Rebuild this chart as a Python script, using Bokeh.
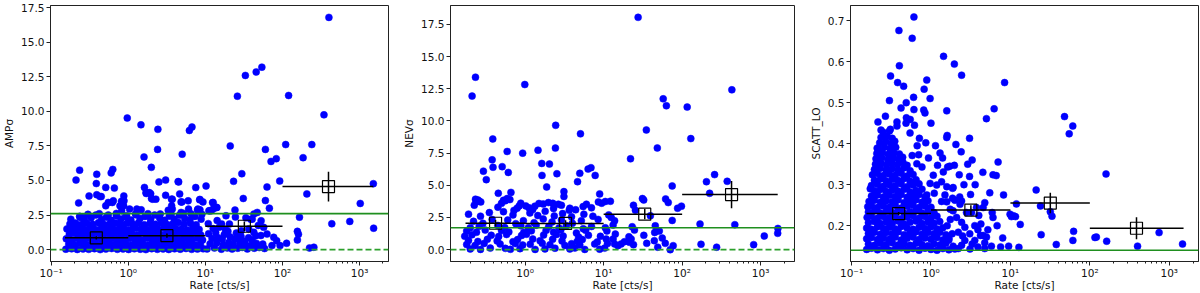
from bokeh.plotting import figure
from bokeh.layouts import row
from bokeh.models import Range1d, FixedTicker, PrintfTickFormatter, CustomJSTickFormatter, Span
from bokeh.embed import file_html
from bokeh.resources import INLINE

# ---------------- data: panel 1 (AMP sigma) ----------------
amp_blob = [
 (0.155,0.03),(0.184,0.06),(0.218,0.01),(0.259,0.05),(0.307,0.02),(0.364,0.07),(0.432,0.0),(0.512,0.04),(0.608,0.08),(0.721,0.02),(0.855,0.05),(1.01,0.01),(1.2,0.06),(1.43,0.03),(1.69,0.0),(2.01,0.07),(2.38,0.02),(2.83,0.05),(3.35,0.01),(3.98,0.06),(4.72,0.03),(5.6,0.08),(6.64,0.02),(7.88,0.04),(9.35,0.06),
 (0.169,0.4),(0.2,0.36),(0.238,0.44),(0.282,0.38),(0.335,0.42),(0.397,0.35),(0.471,0.41),(0.559,0.45),(0.663,0.37),(0.787,0.43),(0.933,0.39),(1.11,0.36),(1.31,0.44),(1.56,0.4),(1.85,0.35),(2.19,0.42),(2.6,0.38),(3.09,0.45),(3.66,0.36),(4.35,0.41),(5.16,0.39),(6.12,0.44),(7.26,0.35),(8.61,0.4),
 (0.157,0.78),(0.186,0.72),(0.22,0.8),(0.262,0.75),(0.31,0.82),(0.368,0.74),(0.436,0.79),(0.518,0.72),(0.614,0.81),(0.728,0.76),(0.864,0.73),(1.02,0.8),(1.21,0.77),(1.44,0.72),(1.71,0.82),(2.03,0.75),(2.41,0.79),(2.86,0.73),(3.39,0.81),(4.02,0.76),(4.77,0.72),(5.66,0.8),(6.71,0.75),(7.96,0.83),(9.2,0.7),
 (0.172,1.12),(0.203,1.18),(0.241,1.1),(0.286,1.16),(0.34,1.13),(0.402,1.2),(0.477,1.09),(0.566,1.15),(0.671,1.19),(0.797,1.11),(0.945,1.17),(1.12,1.14),(1.33,1.08),(1.58,1.2),(1.87,1.13),(2.22,1.16),(2.63,1.1),(3.13,1.19),(3.71,1.12),(4.4,1.17),(5.22,1.09),(6.2,1.15),(7.35,1.2),(8.7,1.06),
 (0.16,1.5),(0.19,1.44),(0.225,1.53),(0.266,1.47),(0.316,1.55),(0.375,1.46),(0.445,1.52),(0.528,1.45),(0.626,1.54),(0.742,1.48),(0.88,1.51),(1.04,1.44),(1.24,1.55),(1.47,1.49),(1.74,1.46),(2.07,1.53),(2.45,1.47),(2.91,1.56),(3.45,1.45),(4.1,1.52),(4.86,1.48),(5.77,1.42),(6.85,1.55),(8.3,1.46),
 (0.175,1.85),(0.207,1.92),(0.246,1.82),(0.291,1.9),(0.345,1.84),(0.41,1.95),(0.485,1.81),(0.576,1.88),(0.683,1.93),(0.81,1.83),(0.96,1.9),(1.14,1.86),(1.36,1.94),(1.61,1.8),(1.91,1.89),(2.26,1.84),(2.68,1.92),(3.18,1.82),(3.78,1.88),(4.48,1.96),(5.3,1.83),(6.4,1.9),(7.6,1.8),
 (0.18,2.2),(0.235,2.4),(0.27,2.15),(0.33,2.3),(0.38,2.5),(0.45,2.18),(0.52,2.35),(0.6,2.12),(0.7,2.45),(0.8,2.22),(0.92,2.38),(1.08,2.15),(1.25,2.52),(1.42,2.25),(1.65,2.4),(1.95,2.17),(2.2,2.5),(2.55,2.28),(2.95,2.12),(3.4,2.42),(3.95,2.2),(4.6,2.48),(5.4,2.25),(6.3,2.15),(7.3,2.4),(8.8,2.2),
]
amp_mid = [
 (10.5,0.05),(11.5,0.42),(12.2,0.8),(11.0,1.15),(12.6,1.52),(10.9,1.88),(13.1,0.12),(14.0,0.47),(14.6,0.86),(13.6,1.22),(15.1,1.62),(14.2,2.1),(16.1,0.03),(17.0,0.36),(16.6,0.76),(17.6,1.1),(18.2,1.46),(16.2,1.86),(19.2,0.12),(20.1,0.52),(21.0,0.92),(19.6,1.32),(22.2,0.04),(23.1,0.36),(24.1,0.76),(25.2,1.2),(26.3,0.1),(28.0,0.5),(27.2,0.95),(30.1,0.16),(32.5,0.6),(29.2,1.36),(34.2,0.22),(36.3,0.86),(38.4,0.3),(40.5,0.7),(43.0,0.1),(46.0,0.45),(50.0,0.15),(52.5,1.02),(55.5,0.4),(58.5,0.08),(36.5,1.5),(42.5,1.25),(48.5,1.75),(33.5,2.3),(24.5,2.36),(18.5,2.45),(40.5,2.2),(20.5,1.85),(57,1.61),(63,1.13),(77,0.89),(84,0.65),(73,0.29),(93,0.29),(52.8,2.09),(42.6,2.57),(47,2.69),(38.7,2.2),(11.4,2.81),(14.1,3.05),(12.4,3.4),(12.7,2.95),(24.2,2.86),(31,3.7),(60,3.55),(67.6,3.0),(29,0.95),(35,0.05),(45,1.0),
]
amp_outer = [
 (400,16.8),(54,13.2),(45.6,12.85),(33,12.6),(26,11.1),(120,11.15),(345,9.75),(0.97,9.52),(1.46,9.03),(2.42,8.7),(6.2,8.62),(6.7,8.87),(2.4,7.25),(21,7.5),(110,7.6),(240,7.6),(60,7.25),(71,6.38),(83,6.58),(185,6.65),(5.0,6.9),(1.6,6.7),(1.99,5.95),(0.21,5.03),(0.234,5.75),(0.227,3.38),(0.39,5.45),(0.385,4.78),(0.6,5.55),(0.63,5.8),(0.51,4.5),(0.66,4.45),(0.31,3.88),(0.39,3.97),(0.446,3.84),(0.875,3.88),(0.817,3.5),(1.62,4.5),(2.5,4.9),(3.05,5.03),(4.5,4.9),(1.71,4.06),(1.95,4.05),(2.0,3.7),(3.05,3.93),(3.64,3.65),(4.64,4.03),(4.95,3.45),(5.98,3.53),(7.5,4.49),(10.2,4.6),(8.5,3.63),(9.3,3.45),(7.9,2.87),(3.3,2.85),(23.2,4.94),(29.7,5.49),(63,4.53),(92,4.96),(207,4.03),(166,2.35),(156,1.32),(161,1.11),(156,0.7),(113,0.46),(224,0.12),(255,0.17),(436,1.87),(746,2.04),(1019,3.34),(1507,4.77),(1520,1.55),
 (0.43,3.84),(0.64,3.53),(0.88,3.53),(1.7,4.13),(1.87,4.13),(2.07,3.65),(2.28,3.65),(4.43,4.92),(3.72,3.65),(3.65,3.17),(3.72,2.93),(4.84,3.45),(4.84,2.69),(6.05,2.93),(8.43,3.6),(8.0,2.93),(8.5,2.88),(12.6,3.41),(13.9,3.05),(11.1,2.81),(11.9,2.81),(0.51,3.17),(0.55,3.41),(0.62,3.41),(0.266,2.33),(0.24,2.33),(0.19,1.73),(1.04,2.93),(1.29,2.93),(1.47,2.88),(0.78,3.17),(0.87,3.17),(0.82,2.81),(0.3,2.55),(0.42,2.6),(0.55,2.5),(0.7,2.62),(0.95,2.45),(1.25,2.6),(1.8,2.6),(2.6,2.58),(3.6,2.55),(5.2,2.62),(6.5,2.6),(9.0,2.55),(0.235,2.4),
]
amp_bin_rate = [0.385, 3.17, 32.0, 395.0]
amp_bin_val = [0.85, 1.01, 1.69, 4.56]
amp_bin_err = [0.12, 0.15, 0.35, 1.08]
amp_bin_lo = [0.151, 1.0, 10.0, 100.0]
amp_bin_hi = [1.0, 10.0, 100.0, 1507.0]
amp_solid = 2.6
amp_dashed = 0.0

# ---------------- data: panel 2 (NEV sigma) ----------------
nev_low = [
 (0.2,0.05),(0.27,0.02),(0.36,0.12),(0.56,0.1),(0.65,0.03),(0.86,0.08),(1.34,0.02),(1.79,0.06),(2.4,0.11),(3.71,0.05),(4.3,0.13),(5.75,0.02),(8.9,0.04),(10.3,0.12),
 (0.18,0.4),(0.23,0.32),(0.3,0.48),(0.48,0.44),(0.75,0.47),(0.93,0.36),(1.16,0.42),(1.65,0.49),(2.07,0.38),(3.21,0.33),(3.9,0.46),(4.97,0.37),(7.69,0.44),(11.2,0.48),
 (0.19,0.72),(0.25,0.64),(0.33,0.8),(0.44,0.68),(0.7,0.62),(0.8,0.78),(1.25,0.83),(1.55,0.7),(2.24,0.8),(2.95,0.68),(4.6,0.64),(5.35,0.79),(8.3,0.6),(10.8,0.82),
 (0.17,1.05),(0.21,1.15),(0.37,1.12),(0.46,1.02),(0.58,1.18),(0.9,1.1),(1.04,1.2),(1.72,1.14),(2.5,1.18),(3.05,1.06),(4.8,0.98),(6.4,1.12),(9.1,1.04),
 (0.18,1.45),(0.24,1.35),(0.31,1.52),(0.5,1.48),(0.62,1.38),(0.96,1.34),(1.2,1.46),(1.85,1.5),(2.3,1.36),(2.85,1.54),(4.5,1.3),(5.9,1.5),(11.0,1.45),
 (0.2,1.7),(0.26,1.82),(0.45,1.88),(0.55,1.72),(0.88,1.85),(1.1,1.7),(1.38,1.9),(2.0,1.8),(2.7,1.68),(3.35,1.86),(5.5,1.62),(7.0,1.8),(10.5,1.7),
 (0.22,2.2),(0.29,2.05),(0.38,2.35),(0.6,2.3),(0.76,2.02),(0.95,2.25),(1.3,2.1),(1.7,2.38),(2.2,2.15),(2.9,2.3),(4.0,2.05),(5.2,2.25),(8.5,2.35),
 (0.19,2.76),(0.27,2.6),(0.35,2.88),(0.53,2.95),(0.7,2.7),(1.15,2.85),(1.45,2.65),(1.8,2.98),(2.35,2.62),(3.0,2.8),(3.9,2.55),(5.6,2.75),(7.3,2.6),(11.6,2.7),
 (0.225,3.46),(0.257,3.79),(0.233,3.92),(0.45,3.3),(0.72,3.05),(1.02,3.4),(1.25,3.12),(2.3,3.2),(2.9,3.45),(4.4,3.1),(7.0,3.25),
]
nev_outer = [
 (27.5,18.05),(0.233,13.4),(0.211,11.93),(0.99,12.83),(430,12.42),(57.4,11.72),(63,11.18),(116,11.08),(129,8.63),(2.45,9.66),(5.07,9.0),(35,9.3),(48.3,7.9),(22,7.06),(0.387,8.6),(0.93,7.5),(1.46,7.73),(2.43,7.89),(0.59,7.63),(0.38,6.98),(0.39,6.4),(0.294,6.1),(0.32,5.44),(0.51,6.45),(0.61,6.0),(1.63,6.7),(2.04,6.65),(1.64,5.77),(2.54,5.9),(4.97,5.93),(4.65,5.28),(6.34,6.26),(6.9,6.37),(7.8,5.77),(1.88,4.87),(0.455,4.38),(0.66,4.45),(8.9,4.33),(3.12,4.51),(3.12,4.13),(0.25,3.86),(0.238,3.74),(0.272,3.71),(0.53,3.84),(0.59,3.97),(0.64,3.89),(0.5,3.6),(0.56,3.8),(0.88,3.61),(0.84,3.4),(0.79,3.22),(1.12,3.25),(1.33,3.38),(1.5,3.59),(1.7,3.55),(1.98,3.66),(2.25,3.6),(2.65,3.53),(3.71,3.22),(3.65,3.07),(5.48,3.35),(6.04,3.53),(8.57,3.71),(9.43,3.61),(10.5,3.74),(12.2,3.76),
 (204,5.28),(259,5.83),(375,5.31),(224,4.38),(74.7,4.95),(61.6,3.94),(66.5,3.66),(31.2,3.97),(32.4,3.86),(24,3.45),(25.4,3.07),(98,3.38),(87.5,3.22),(74.7,2.27),(39.4,2.63),(169,1.99),(469,1.94),(1660,1.65),(1650,1.27),(1113,1.06),(815,0.39),(174,0.42),(275,0.19),(45.5,1.85),(47.4,1.45),(51.2,1.45),(44.7,1.34),(23.1,1.78),(24.7,1.52),(32.5,1.11),(35.4,0.49),(21,1.0),(22.4,0.83),(24,0.39),(21.3,0.57),(18.4,0.62),(16.7,0.44),(15.2,0.31),(13.8,0.44),(13.2,0.83),(14.1,1.21),(13.2,1.91),(13.8,2.24),(12.5,2.5),(55.8,0.9),(61,0.49),(70.5,0.0),(76.9,0.31),(48.9,0.19),(44.2,0.7),
]
nev_bin_rate = [0.42, 3.27, 33.4, 426.0]
nev_bin_val = [2.05, 2.04, 2.76, 4.28]
nev_bin_err = [0.25, 0.25, 0.4, 1.06]
nev_bin_lo = [0.174, 1.0, 10.0, 100.0]
nev_bin_hi = [1.0, 10.0, 100.0, 1650.0]
nev_solid = 1.7
nev_dashed = 0.0

# ---------------- data: panel 3 (SCATT_LO) ----------------
scatt_blob = [
 (0.155,0.142),(0.178,0.145),(0.212,0.141),(0.252,0.144),(0.299,0.14),(0.355,0.143),(0.422,0.146),(0.501,0.141),(0.596,0.144),(0.708,0.14),(0.841,0.145),(1.0,0.142),(1.19,0.14),(1.41,0.144),(1.68,0.141),(2.0,0.143),
 (0.163,0.155),(0.194,0.152),(0.231,0.157),(0.274,0.154),(0.326,0.158),(0.387,0.153),(0.46,0.156),(0.546,0.152),(0.649,0.157),(0.771,0.154),(0.917,0.151),(1.09,0.156),(1.29,0.153),(1.54,0.157),
 (0.155,0.168),(0.178,0.171),(0.212,0.166),(0.252,0.17),(0.299,0.167),(0.355,0.172),(0.422,0.165),(0.501,0.169),(0.596,0.172),(0.708,0.166),(0.841,0.17),(1.0,0.167),(1.19,0.171),(1.41,0.165),(1.68,0.169),
 (0.163,0.181),(0.194,0.184),(0.231,0.179),(0.274,0.183),(0.326,0.18),(0.387,0.185),(0.46,0.178),(0.546,0.182),(0.649,0.185),(0.771,0.179),(0.917,0.183),(1.09,0.18),(1.29,0.184),(1.54,0.178),
 (0.155,0.194),(0.178,0.191),(0.212,0.197),(0.252,0.193),(0.299,0.196),(0.355,0.192),(0.422,0.198),(0.501,0.194),(0.596,0.191),(0.708,0.196),(0.841,0.193),(1.0,0.197),(1.19,0.192),(1.41,0.195),
 (0.163,0.207),(0.194,0.21),(0.231,0.205),(0.274,0.209),(0.326,0.206),(0.387,0.211),(0.46,0.204),(0.546,0.208),(0.649,0.211),(0.771,0.205),(0.917,0.209),(1.09,0.206),(1.29,0.21),
 (0.157,0.22),(0.178,0.223),(0.212,0.218),(0.252,0.222),(0.299,0.219),(0.355,0.224),(0.422,0.217),(0.501,0.221),(0.596,0.224),(0.708,0.218),(0.841,0.222),(1.0,0.219),(1.19,0.223),
 (0.163,0.233),(0.194,0.236),(0.231,0.231),(0.274,0.235),(0.326,0.232),(0.387,0.237),(0.46,0.23),(0.546,0.234),(0.649,0.237),(0.771,0.231),(0.917,0.235),(1.09,0.232),
 (0.16,0.246),(0.178,0.249),(0.212,0.244),(0.252,0.248),(0.299,0.245),(0.355,0.25),(0.422,0.243),(0.501,0.247),(0.596,0.25),(0.708,0.244),(0.841,0.248),(1.0,0.245),
 (0.166,0.259),(0.194,0.262),(0.231,0.257),(0.274,0.261),(0.326,0.258),(0.387,0.263),(0.46,0.256),(0.546,0.26),(0.649,0.263),(0.771,0.257),(0.917,0.261),
 (0.178,0.272),(0.212,0.275),(0.252,0.27),(0.299,0.274),(0.355,0.271),(0.422,0.276),(0.501,0.269),(0.596,0.273),(0.708,0.276),(0.841,0.27),
 (0.172,0.29),(0.194,0.285),(0.231,0.288),(0.274,0.283),(0.326,0.287),(0.387,0.284),(0.46,0.289),(0.546,0.282),(0.649,0.286),(0.771,0.289),
 (0.178,0.298),(0.212,0.301),(0.252,0.296),(0.299,0.3),(0.355,0.297),(0.422,0.302),(0.501,0.295),(0.596,0.299),(0.708,0.302),
 (0.194,0.311),(0.231,0.314),(0.274,0.309),(0.326,0.313),(0.387,0.31),(0.46,0.315),(0.546,0.308),(0.649,0.312),
 (0.183,0.324),(0.212,0.327),(0.252,0.322),(0.299,0.326),(0.355,0.323),(0.422,0.328),(0.501,0.321),(0.596,0.325),
 (0.194,0.337),(0.231,0.34),(0.274,0.335),(0.326,0.339),(0.387,0.336),(0.46,0.341),(0.546,0.334),
 (0.2,0.35),(0.235,0.353),(0.276,0.348),(0.323,0.352),(0.38,0.349),(0.445,0.354),(0.5,0.347),
 (0.203,0.363),(0.24,0.366),(0.285,0.361),(0.335,0.365),(0.39,0.362),(0.44,0.367),
 (0.208,0.376),(0.245,0.379),(0.29,0.374),(0.34,0.378),(0.4,0.375),
 (0.218,0.389),(0.26,0.392),(0.305,0.387),(0.36,0.391),
 (0.226,0.402),(0.27,0.405),(0.315,0.4),(0.35,0.406),
 (0.235,0.415),(0.28,0.418),(0.325,0.413),
 (0.25,0.428),(0.3,0.431),
]
scatt_outer = [
 (0.61,0.709),(0.395,0.676),(0.58,0.657),(1.44,0.613),(1.97,0.594),(0.4,0.59),(0.31,0.565),(2.43,0.567),(0.38,0.549),(0.453,0.54),(0.885,0.555),(0.82,0.533),(8.45,0.549),(0.3,0.505),(0.604,0.513),(0.488,0.5),(0.975,0.51),(0.42,0.487),(0.61,0.483),(0.81,0.482),(0.84,0.475),(1.58,0.48),(6.24,0.485),(4.99,0.461),(48,0.466),(61,0.443),(55,0.424),(0.267,0.467),(0.215,0.453),(0.373,0.453),(0.49,0.463),(0.548,0.459),(0.485,0.45),(0.62,0.445),(1.0,0.45),(0.235,0.433),(0.308,0.435),(0.373,0.443),(1.58,0.415),(1.6,0.42),(0.545,0.426),(0.715,0.413),(0.86,0.402),(0.67,0.395),(1.14,0.395),(0.21,0.389),(2.06,0.398),(3.06,0.413),(0.58,0.371),(0.7,0.373),(0.93,0.365),(1.3,0.377),(1.4,0.365),(0.664,0.351),(0.77,0.343),(1.21,0.347),(1.07,0.323),(1.43,0.331),(1.62,0.343),(1.97,0.347),(0.975,0.303),(1.18,0.299),(1.36,0.307),(1.58,0.295),(1.87,0.291),(0.885,0.275),(1.1,0.279),(1.5,0.275),(1.36,0.259),(1.58,0.258),(1.87,0.267),(7.0,0.355),(2.27,0.324),(3.06,0.32),(6.04,0.324),(6.63,0.322),(1.72,0.345),(160,0.326),(1.9,0.293),(21.1,0.287),(8.2,0.275),(3.15,0.276),(2.43,0.26),(2.32,0.252),(4.76,0.256),(4.54,0.244),(3.74,0.244),(3.24,0.232),(11.9,0.253),(23.9,0.248),(31.8,0.234),(33.4,0.223),(10.3,0.222),(11.6,0.222),(13.3,0.203),(5.9,0.232),(6.04,0.22),(4.25,0.204),(4.54,0.176),(4.2,0.176),(7.53,0.148),(12.8,0.147),(24.4,0.178),(37.8,0.154),(62.5,0.186),(61.2,0.164),(116,0.171),(121,0.172),(163,0.162),(399,0.15),(745,0.183),(1470,0.155),(9.9,0.228),(10.9,0.224),
 (2.1,0.22),(2.43,0.208),(2.67,0.196),(3.56,0.2),(2.21,0.184),(3.08,0.18),(2.67,0.164),(3.56,0.164),(4.75,0.158),(2.43,0.152),(2.21,0.144),(3.1,0.143),(3.9,0.148),(4.75,0.144),(5.77,0.15),(5.2,0.19),(2.8,0.232),(1.9,0.236),(1.75,0.215),(1.85,0.18),(1.9,0.15),(1.6,0.2),(1.75,0.24),(2.3,0.27),(2.0,0.262),(3.3,0.155),(2.5,0.175),(1.68,0.165),(3.9,0.19),(5.0,0.172),(4.0,0.225),(6.8,0.2),(8.0,0.17),(9.5,0.15),(2.6,0.3),(3.6,0.3),(5.5,0.28),(2.9,0.35),(2.4,0.38),(3.3,0.36),(4.5,0.33),
]
scatt_bin_rate = [0.392, 3.18, 31.8, 387.0]
scatt_bin_val = [0.2294, 0.238, 0.255, 0.1936]
scatt_bin_err = [0.004, 0.012, 0.025, 0.027]
scatt_bin_lo = [0.154, 1.0, 10.0, 100.0]
scatt_bin_hi = [1.0, 10.0, 100.0, 1514.0]
scatt_solid = 0.14

x_major = [0.1, 1, 10, 100, 1000]
x_minor = [0.2, 0.3, 0.4, 0.5, 0.6, 0.7, 0.8, 0.9, 2, 3, 4, 5, 6, 7, 8, 9,
           20, 30, 40, 50, 60, 70, 80, 90, 200, 300, 400, 500, 600, 700, 800, 900, 2000]
amp_yticks = [0, 2.5, 5, 7.5, 10, 12.5, 15, 17.5]
scatt_yticks = [0.2, 0.3, 0.4, 0.5, 0.6, 0.7]

FONT = "DejaVu Sans"
H = 293


def log_formatter():
    return CustomJSTickFormatter(code="""
const e = Math.round(Math.log10(tick));
const sup = {'-':'\u207b','0':'\u2070','1':'\u00b9','2':'\u00b2','3':'\u00b3','4':'\u2074'};
return '10' + String(e).split('').map(c => sup[c]).join('');
""")


def make_panel(groups, bins, xr, yr, yticks, ylabel, solid_y, dashed_y, width, bl, br):
    p = figure(width=width, height=H, x_axis_type="log",
               x_range=Range1d(*xr), y_range=Range1d(*yr),
               output_backend="svg", toolbar_location=None,
               min_border_left=bl, min_border_right=br, min_border_top=5, min_border_bottom=30)
    p.grid.visible = False
    p.outline_line_color = "#222222"
    p.outline_line_width = 1
    p.background_fill_color = "white"
    p.border_fill_color = "white"
    for g in groups:
        xs = [a for a, b in g]
        ys = [b for a, b in g]
        p.scatter(xs, ys, size=7, fill_color="#0000ff", line_color="#0000ff", line_width=0.5)
    p.add_layout(Span(location=solid_y, dimension="width", line_color="#1f8f1f", line_width=1.6))
    if dashed_y is not None:
        p.add_layout(Span(location=dashed_y, dimension="width", line_color="#2ca02c",
                          line_width=1.6, line_dash="6 3"))
    rate, val, err, lo, hi = bins
    p.segment(x0=lo, y0=val, x1=hi, y1=val, line_color="black", line_width=1.5)
    p.segment(x0=rate, y0=[v - e for v, e in zip(val, err)], x1=rate,
              y1=[v + e for v, e in zip(val, err)], line_color="black", line_width=1.5)
    p.scatter(rate, val, marker="square", size=12, fill_alpha=0, line_color="black", line_width=1.2)

    p.xaxis.ticker = FixedTicker(ticks=x_major, minor_ticks=x_minor)
    p.xaxis.formatter = log_formatter()
    p.yaxis.ticker = FixedTicker(ticks=yticks)
    p.yaxis.formatter = PrintfTickFormatter(format="%.1f")
    p.xaxis.axis_label = "Rate [cts/s]"
    p.yaxis.axis_label = ylabel
    for ax in p.axis:
        ax.major_tick_in = 0
        ax.major_tick_out = 4
        ax.minor_tick_in = 0
        ax.minor_tick_out = 2
        ax.axis_line_color = "#222222"
        ax.major_tick_line_color = "#222222"
        ax.minor_tick_line_color = "#222222"
        ax.major_label_text_font = FONT
        ax.major_label_text_font_size = "10.5px"
        ax.major_label_text_color = "#111111"
        ax.major_label_standoff = 2
        ax.axis_label_text_font = FONT
        ax.axis_label_text_font_size = "10.5px"
        ax.axis_label_text_font_style = "normal"
        ax.axis_label_text_color = "#111111"
        ax.axis_label_standoff = 3
    p.xaxis.major_label_standoff = 1
    p.xaxis.axis_label_standoff = -3
    p.yaxis.minor_tick_line_color = None
    return p


p1 = make_panel([amp_blob, amp_mid, amp_outer],
                (amp_bin_rate, amp_bin_val, amp_bin_err, amp_bin_lo, amp_bin_hi),
                (0.098, 2370), (-0.86, 17.66), amp_yticks, "AMPσ", amp_solid, amp_dashed,
                400, 43, 12)
p2 = make_panel([nev_low, nev_outer],
                (nev_bin_rate, nev_bin_val, nev_bin_err, nev_bin_lo, nev_bin_hi),
                (0.112, 2700), (-0.92, 18.97), amp_yticks, "NEVσ", nev_solid, nev_dashed,
                406, 48, 12)
p3 = make_panel([scatt_blob, scatt_outer],
                (scatt_bin_rate, scatt_bin_val, scatt_bin_err, scatt_bin_lo, scatt_bin_hi),
                (0.097, 2335), (0.1125, 0.737), scatt_yticks, "SCATT_LO", scatt_solid, None,
                394, 42, 2)

layout = row(p1, p2, p3)
open("out.html", "w").write(file_html(layout, INLINE))
